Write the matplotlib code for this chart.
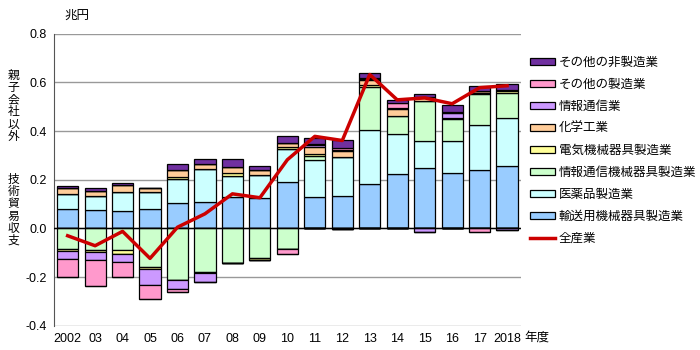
import matplotlib
matplotlib.use("Agg")
import matplotlib.pyplot as plt
import numpy as np
from matplotlib.patches import Patch
from matplotlib.lines import Line2D

plt.rcParams['font.family'] = ['Liberation Sans', 'Noto Sans CJK JP']

years = ['2002', '03', '04', '05', '06', '07', '08', '09', '10', '11', '12',
         '13', '14', '15', '16', '17', '2018']

# 兆円
transport = [0.079, 0.074, 0.070, 0.081, 0.104, 0.109, 0.131, 0.126, 0.190,
             0.129, 0.134, 0.183, 0.224, 0.250, 0.229, 0.240, 0.255]
pharma = [0.063, 0.060, 0.078, 0.068, 0.101, 0.135, 0.085, 0.093, 0.138,
          0.150, 0.159, 0.222, 0.165, 0.111, 0.128, 0.186, 0.198]
info_equip = [-0.085, -0.088, -0.088, -0.159, -0.211, -0.178, -0.142, -0.120, -0.085,
              0.019, 0.0, 0.175, 0.071, 0.162, 0.092, 0.124, 0.105]
electric = [-0.008, -0.008, -0.016, -0.008, 0.005, -0.005, 0.013, -0.008, 0.005,
            0.008, -0.004, 0.008, 0.0, 0.0, 0.005, 0.006, 0.006]
chemical = [0.024, 0.019, 0.029, 0.016, 0.030, 0.021, 0.022, 0.019, 0.016,
            0.027, 0.025, 0.020, 0.030, 0.016, 0.0, 0.008, 0.004]
info_comm = [-0.033, -0.033, -0.033, -0.066, -0.036, -0.039, 0.0, 0.0, 0.0,
             0.008, 0.004, 0.005, 0.006, -0.014, 0.019, 0.0, -0.005]
other_mfg = [-0.075, -0.109, -0.063, -0.057, -0.014, 0.0, 0.0, 0.0, -0.019,
             0.006, 0.010, 0.006, 0.019, 0.0, 0.004, -0.014, 0.0]
other_nonmfg = [0.010, 0.012, 0.010, 0.003, 0.025, 0.019, 0.033, 0.019, 0.030,
                0.025, 0.030, 0.019, 0.011, 0.011, 0.030, 0.021, 0.025]
all_ind = [-0.030, -0.071, -0.012, -0.123, 0.005, 0.060, 0.142, 0.126, 0.282,
           0.378, 0.361, 0.632, 0.528, 0.536, 0.512, 0.578, 0.586]

series = [
    ('輸送用機械器具製造業', transport, '#99ccff'),
    ('医薬品製造業', pharma, '#ccffff'),
    ('情報通信機械器具製造業', info_equip, '#ccffcc'),
    ('電気機械器具製造業', electric, '#ffff99'),
    ('化学工業', chemical, '#ffcc99'),
    ('情報通信業', info_comm, '#cc99ff'),
    ('その他の製造業', other_mfg, '#ff99cc'),
    ('その他の非製造業', other_nonmfg, '#7030a0'),
]

fig = plt.figure(figsize=(7, 3.5), dpi=100)
ax = fig.add_axes([0.077, 0.069, 0.667, 0.835])

x = np.arange(len(years))
pos_base = np.zeros(len(years))
neg_base = np.zeros(len(years))
for name, vals, col in series:
    v = np.array(vals)
    pos = np.where(v > 0, v, 0)
    neg = np.where(v < 0, v, 0)
    ax.bar(x, pos, 0.77, bottom=pos_base, color=col, edgecolor='black', linewidth=0.9, zorder=3)
    ax.bar(x, neg, 0.77, bottom=neg_base, color=col, edgecolor='black', linewidth=0.9, zorder=3)
    pos_base += pos
    neg_base += neg

ax.plot(x, all_ind, color='#cc0000', linewidth=2.5, zorder=5)
ax.axhline(0, color='black', linewidth=1, zorder=4)

ax.set_xlim(-0.5, len(years) - 0.5)
ax.set_ylim(-0.4, 0.8)
ax.set_yticks(np.arange(-0.4, 0.81, 0.2))
ax.set_yticklabels([f'{t:.1f}' for t in np.arange(-0.4, 0.81, 0.2)])
ax.set_xticks(x)
ax.set_xticklabels(years)
ax.tick_params(axis='both', labelsize=9, length=0, pad=5)
ax.grid(axis='y', color='#999999', linewidth=1, zorder=0)
for s in ['top', 'right', 'bottom']:
    ax.spines[s].set_visible(False)
ax.spines['left'].set_color('#555555')

fig.text(0.11, 0.955, '兆円', fontsize=9, ha='center', va='center')
fig.text(0.749, 0.035, '年度', fontsize=9, ha='left', va='center')

# vertical y label, one character per row
ylab1 = '親子会社以外'
ylab2 = '技術貿易収支'
for i, ch in enumerate(ylab1):
    fig.text(0.019, 1 - (75.5 + 12.3 * i) / 350, ch, fontsize=8.5, ha='center', va='center')
for i, ch in enumerate(ylab2):
    fig.text(0.019, 1 - (180 + 12.2 * i) / 350, ch, fontsize=8.5, ha='center', va='center')

handles = [Patch(facecolor=col, edgecolor='black', linewidth=0.9, label=name)
           for name, vals, col in series[::-1]]
handles.append(Line2D([0], [0], color='#cc0000', linewidth=2.5, label='全産業'))
fig.legend(handles=handles, loc='upper left', bbox_to_anchor=(0.748, 0.855),
           frameon=False, fontsize=9, handlelength=2.0, handleheight=0.55,
           labelspacing=0.80, handletextpad=0.3, borderpad=0)

fig.savefig('out.png', dpi=100)
